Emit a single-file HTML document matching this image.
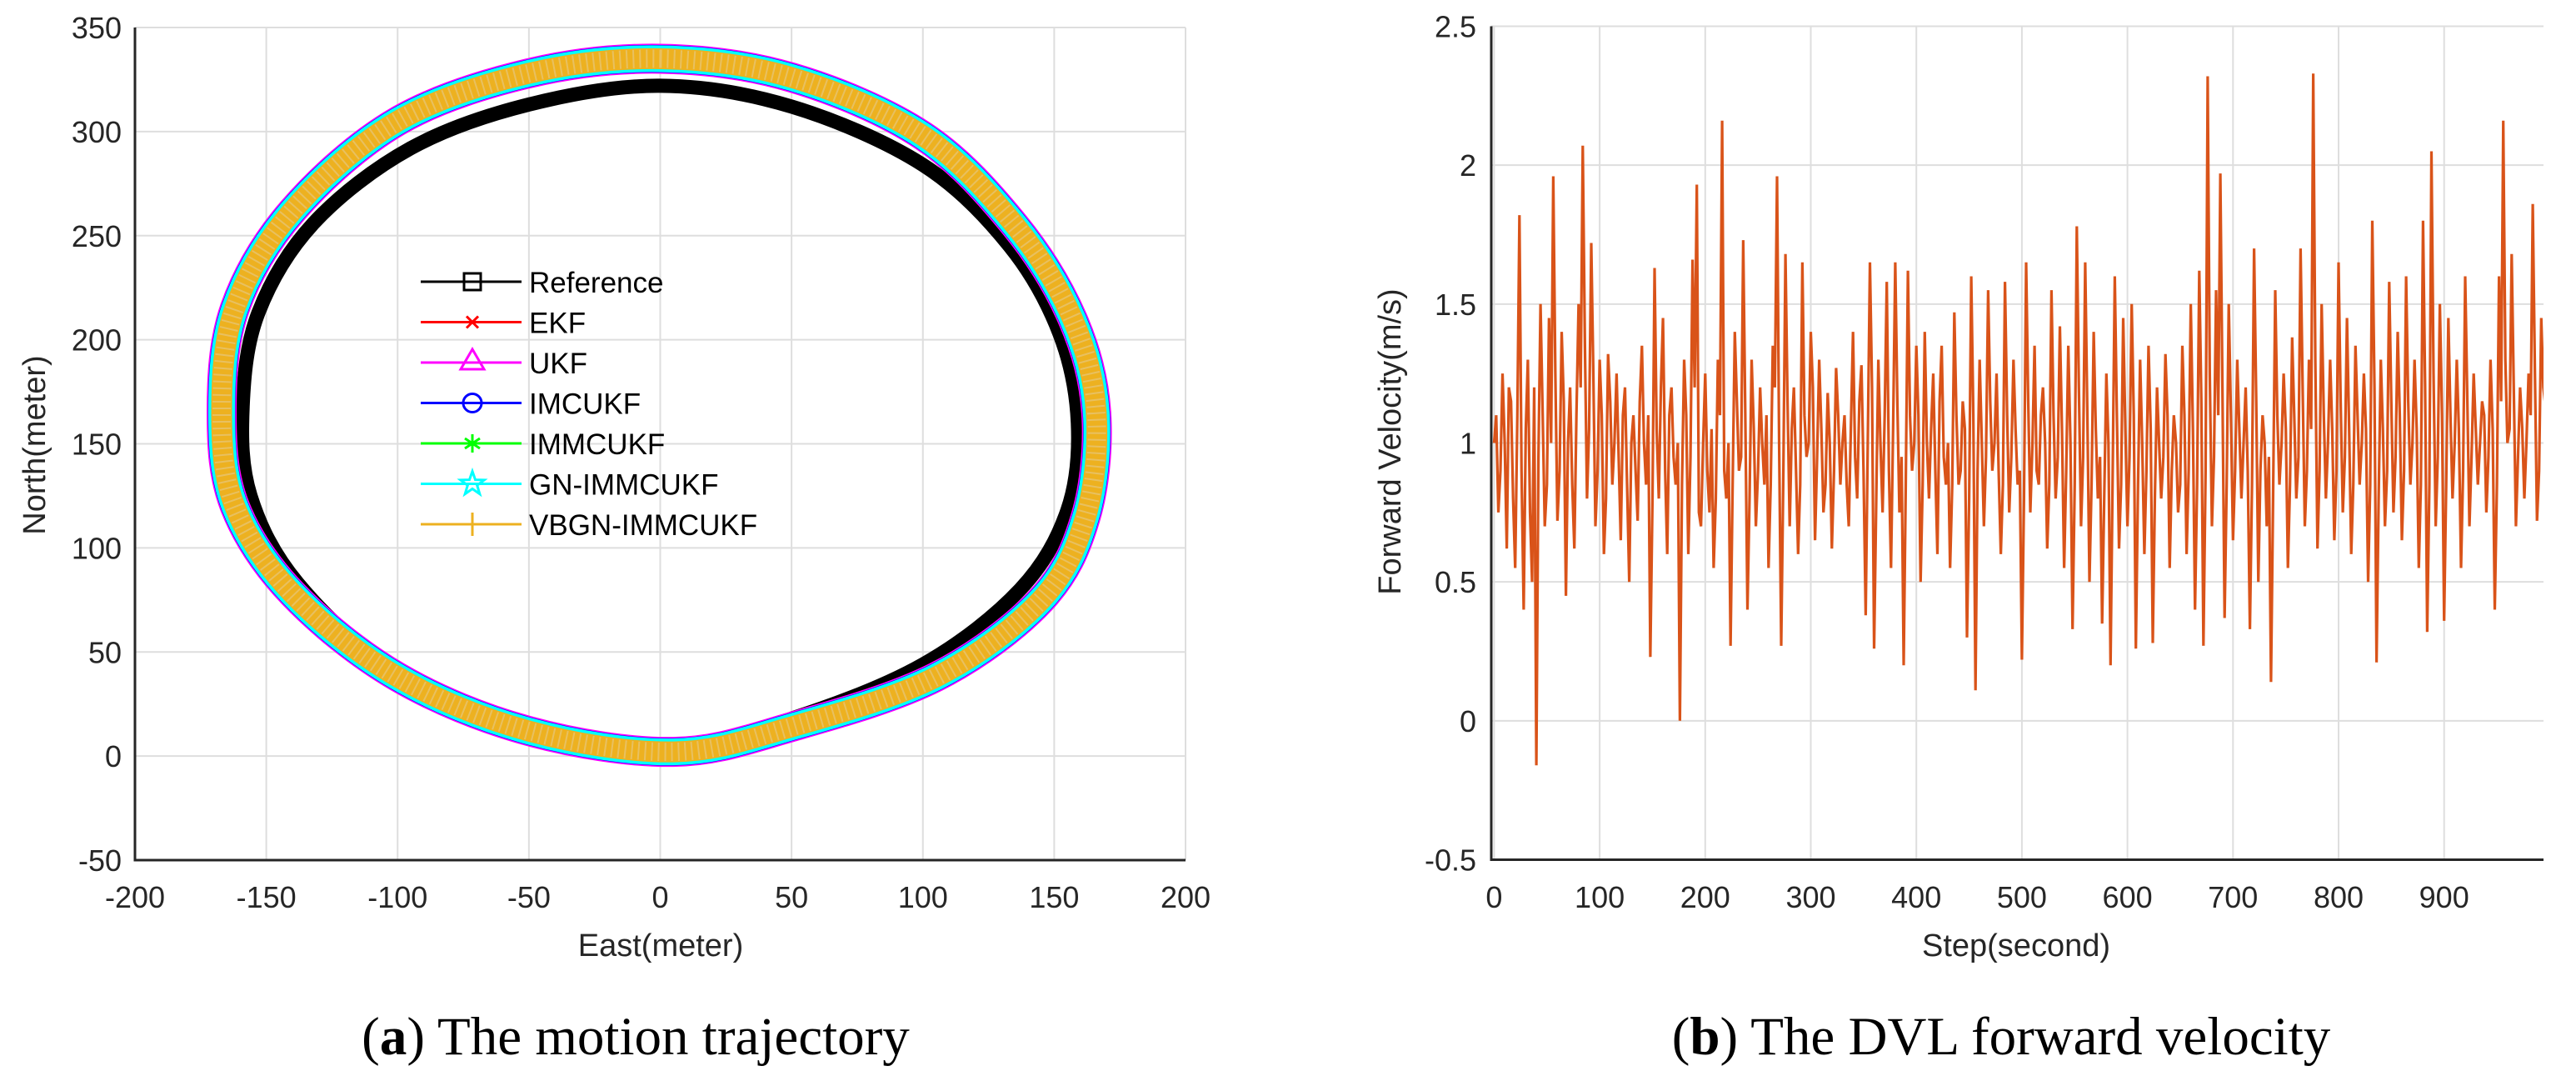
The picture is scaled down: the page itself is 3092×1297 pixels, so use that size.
<!DOCTYPE html>
<html><head><meta charset="utf-8"><style>
html,body{margin:0;padding:0;background:#fff;}
svg{display:block;font-family:"Liberation Sans",Arial,sans-serif;}
</style></head><body>
<svg id="fig" width="3092" height="1297" viewBox="0 0 3092 1297" xmlns="http://www.w3.org/2000/svg">
<defs><clipPath id="clipB"><rect x="1790" y="31" width="1263" height="1001"/></clipPath>
<clipPath id="clipA"><rect x="162" y="33" width="1261" height="999"/></clipPath></defs>
<g id="gA"></g>
<g id="gB"></g>
<text x="763" y="1265" font-family="Liberation Serif,serif" font-size="65" text-anchor="middle" fill="#000">(<tspan font-weight="bold">a</tspan>) The motion trajectory</text>
<text x="2402" y="1265" font-family="Liberation Serif,serif" font-size="65" text-anchor="middle" fill="#000">(<tspan font-weight="bold">b</tspan>) The DVL forward velocity</text>
</svg>
<script>
// ---- Chart A data ----
const xTicksA = [-200,-150,-100,-50,0,50,100,150,200];
const yTicksA = [-50,0,50,100,150,200,250,300,350];
const estEast = [0,50,100,135,157,166,162,145,105,50,5,-50,-100,-140,-162,-167,-162,-140,-100,-50];
const estNorth = [335,326,298,255,210,165,115,75,38,14,2,12,38,78,120,165,215,262,305,328];
const refEast = [0,50,100,133,152,159,155,137,100,50,5,-50,-100,-138,-156,-159,-153,-132,-95,-50];
const refNorth = [322,312,284,245,203,160,118,80,44,18,5,13,40,83,125,168,213,256,292,313];
const legendNames = ["Reference","EKF","UKF","IMCUKF","IMMCUKF","GN-IMMCUKF","VBGN-IMMCUKF"];
const legendColors = ["#000000","#ff0000","#ff00ff","#0000ff","#00ff00","#00ffff","#edb120"];
// ---- Chart B data ----
const xTicksB = [0,100,200,300,400,500,600,700,800,900];
const yTicksB = [-0.5,0,0.5,1,1.5,2,2.5];
const velStep = 4;
const velocity = [1.0,0.75,1.25,0.62,1.15,0.55,1.82,0.4,1.3,0.5,-0.16,1.5,0.7,1.45,1.96,0.72,1.4,0.45,1.2,0.62,
1.5,2.07,0.8,1.72,0.7,1.3,0.6,1.32,0.85,1.25,0.65,1.2,0.5,1.1,0.72,1.35,0.85,0.23,1.63,0.8,
1.45,0.6,1.2,0.85,0.0,1.3,0.6,1.66,1.93,0.7,1.25,0.75,0.55,1.3,2.16,0.8,0.27,1.4,0.9,1.73,
0.4,1.3,0.7,1.2,0.85,0.55,1.35,1.96,0.27,1.68,0.7,1.2,0.6,1.65,0.95,1.4,0.65,1.3,0.75,1.18,
0.62,1.27,0.85,1.1,0.7,1.4,0.8,1.28,0.38,1.65,0.26,1.3,0.75,1.58,0.55,1.65,0.75,0.2,1.62,0.9,
1.35,0.5,1.4,0.8,1.25,0.6,1.35,0.85,0.55,1.47,0.85,1.15,0.3,1.6,0.11,1.3,0.7,1.55,0.9,1.25,
0.6,1.58,0.75,1.3,0.85,0.22,1.65,0.75,1.35,0.85,1.2,0.62,1.55,0.8,1.42,0.55,1.35,0.33,1.78,0.7,
1.65,0.5,1.4,0.8,0.35,1.25,0.2,1.6,0.62,1.45,0.7,1.5,0.26,1.3,0.6,1.35,0.28,1.2,0.8,1.32,
0.55,1.1,0.75,1.35,0.6,1.5,0.4,1.62,0.27,2.32,0.7,1.55,1.97,0.37,1.5,0.65,1.3,0.8,1.2,0.33,
1.7,0.5,1.1,0.7,0.14,1.55,0.85,1.25,0.55,1.38,0.8,1.7,0.7,1.3,2.33,0.62,1.5,0.8,1.3,0.65,
1.65,0.75,1.45,0.6,1.35,0.85,1.25,0.5,1.8,0.21,1.3,0.7,1.58,0.75,1.4,0.65,1.6,0.85,1.3,0.55,
1.8,0.32,2.05,0.7,1.5,0.36,1.45,0.8,1.3,0.55,1.6,0.7,1.25,0.85,1.15,0.75,1.3,0.4,1.6,2.16,
1.0,1.68,0.7,1.2,0.8,1.25,1.86,0.72,1.45,1.13];
const velocityMid = [1.1,0.9,1.0,1.2,0.8,1.1,0.9,1.05,0.75,1.2,0.95,1.1,0.85,1.0,1.25,0.9,1.15,1.0,0.85,1.1,
1.2,1.35,1.05,1.25,0.9,1.1,0.8,1.15,1.0,0.95,1.1,0.85,1.0,0.9,1.15,1.0,1.1,0.8,1.05,1.2,
0.9,1.1,0.95,1.0,0.85,1.1,0.95,1.2,0.75,1.0,0.9,1.05,0.8,1.1,0.9,1.0,0.85,1.15,0.95,1.1,
0.8,1.05,0.9,1.0,1.1,0.85,1.2,1.0,0.9,1.15,1.05,0.9,0.85,1.1,1.0,1.2,0.95,1.05,0.85,1.0,
0.9,1.1,1.0,0.85,1.05,0.95,1.15,0.9,1.0,1.2,0.8,1.0,1.1,0.9,1.05,1.15,0.95,0.85,1.1,1.0,
1.1,0.85,1.0,1.05,0.9,1.15,0.95,1.0,0.85,1.1,0.9,1.05,0.8,1.1,0.9,1.0,0.95,1.15,1.0,0.9,
0.85,1.1,0.95,1.05,0.9,0.8,1.15,1.0,0.9,1.1,1.0,0.85,1.1,0.95,1.05,0.9,1.0,0.85,1.2,0.95,
1.1,0.85,1.05,0.95,0.8,1.0,0.9,1.1,0.85,1.05,0.95,1.1,0.85,1.0,0.9,1.05,0.8,1.0,0.95,1.1,
0.9,1.0,0.85,1.1,0.9,1.05,0.85,1.15,0.9,1.25,0.95,1.1,1.2,0.85,1.1,0.9,1.05,1.0,0.9,0.85,
1.15,0.9,1.0,0.95,0.8,1.1,1.0,1.05,0.85,1.1,0.95,1.2,0.9,1.05,1.3,0.9,1.1,1.0,1.05,0.9,
1.15,0.95,1.05,0.85,1.1,1.0,1.05,0.85,1.2,0.8,1.05,0.9,1.15,0.95,1.1,0.9,1.15,1.0,1.05,0.85,
1.2,0.85,1.25,0.95,1.1,0.85,1.1,1.0,1.05,0.9,1.15,0.95,1.05,1.0,1.1,0.95,1.05,0.85,1.15,1.3,
1.05,1.2,0.95,1.05,1.0,1.1,1.25,0.9,1.2,1.15];

const NS="http://www.w3.org/2000/svg";
function mk(tag, attrs, parent){const e=document.createElementNS(NS,tag);for(const k in attrs)e.setAttribute(k,attrs[k]);parent.appendChild(e);return e;}

// ---- Chart A ----
const gA=document.getElementById('gA');
const AL=162,AR=1423,AT=33,AB=1032;
const xA=v=>AL+(v+200)*(AR-AL)/400;
const yA=v=>AB-(v+50)*(AB-AT)/400;
xTicksA.forEach(t=>{const l=mk('line',{x1:xA(t),x2:xA(t),y1:AT,y2:AB,stroke:'#dedede','stroke-width':2},gA);

const tx=mk('text',{x:xA(t),y:1089,'font-size':36,'text-anchor':'middle',fill:'#262626'},gA);tx.textContent=t;
});
yTicksA.forEach(t=>{const l=mk('line',{x1:AL,x2:AR,y1:yA(t),y2:yA(t),stroke:'#dedede','stroke-width':2},gA);

const tx=mk('text',{x:146,y:yA(t)+13,'font-size':36,'text-anchor':'end',fill:'#262626'},gA);tx.textContent=t;
});
function closedPath(xs,ys){const n=xs.length;const P=xs.map((x,i)=>[xA(x),yA(ys[i])]);
let d='M'+P[0][0]+','+P[0][1];
for(let i=0;i<n;i++){const p0=P[(i-1+n)%n],p1=P[i],p2=P[(i+1)%n],p3=P[(i+2)%n];
const c1=[p1[0]+(p2[0]-p0[0])/6,p1[1]+(p2[1]-p0[1])/6],c2=[p2[0]-(p3[0]-p1[0])/6,p2[1]-(p3[1]-p1[1])/6];
d+=' C'+c1+' '+c2+' '+p2;}return d+'Z';}
const clipA=mk('g',{'clip-path':'url(#clipA)'},gA);
const dEst=closedPath(estEast,estNorth);
const pr=mk('path',{d:closedPath(refEast,refNorth),fill:'none',stroke:'#000','stroke-width':17},clipA);

const layers=[['#ff00ff',36,'ukf-trajectory'],['#0000ff',33,'imcukf-trajectory'],['#00ffff',32,'gn-immcukf-trajectory'],['#edb120',25,'vbgn-immcukf-trajectory']];
layers.forEach(L=>{const p=mk('path',{d:dEst,fill:'none',stroke:L[0],'stroke-width':L[1]},clipA);
});
const pe=mk('path',{d:dEst,fill:'none',stroke:'#e8c060','stroke-width':22,'stroke-dasharray':'2 6'},clipA);

const axA=mk('path',{d:`M${AL},${AT}V${AB}H${AR}`,fill:'none',stroke:'#262626','stroke-width':3},gA);

const xl=mk('text',{x:793,y:1147,'font-size':38,'text-anchor':'middle',fill:'#262626'},gA);xl.textContent='East(meter)';

const yl=mk('text',{x:0,y:0,'font-size':38,'text-anchor':'middle',fill:'#262626',transform:'translate(54,534) rotate(-90)'},gA);yl.textContent='North(meter)';

// legend
legendNames.forEach((nm,i)=>{const y=338+i*48.5;const c=legendColors[i];
const g=mk('g',{},gA);
mk('line',{x1:505,x2:626,y1:y,y2:y,stroke:c,'stroke-width':3},g);
const m=567;
if(i==0)mk('rect',{x:m-10,y:y-10,width:20,height:20,fill:'none',stroke:c,'stroke-width':3},g);
if(i==1)mk('path',{d:`M${m-7},${y-7}L${m+7},${y+7}M${m-7},${y+7}L${m+7},${y-7}`,stroke:c,'stroke-width':3},g);
if(i==2)mk('path',{d:`M${m},${y-16}L${m+14},${y+8}L${m-14},${y+8}Z`,fill:'none',stroke:c,'stroke-width':3},g);
if(i==3)mk('circle',{cx:m,cy:y,r:11,fill:'none',stroke:c,'stroke-width':3},g);
if(i==4)mk('path',{d:`M${m},${y-11}V${y+11}M${m-9},${y-6}L${m+9},${y+6}M${m-9},${y+6}L${m+9},${y-6}`,stroke:c,'stroke-width':3},g);
if(i==5){let d='';for(let k=0;k<10;k++){const r=k%2?6:15,a=-Math.PI/2+k*Math.PI/5;d+=(k?'L':'M')+(m+r*Math.cos(a))+','+(y+r*Math.sin(a));}mk('path',{d:d+'Z',fill:'none',stroke:c,'stroke-width':3},g);}
if(i==6)mk('path',{d:`M${m},${y-14}V${y+14}`,stroke:c,'stroke-width':3},g);
const t=mk('text',{x:635,y:y+13,'font-size':35,fill:'#000'},g);t.textContent=nm;});

// ---- Chart B ----
const gB=document.getElementById('gB');
const BL=1790,BR=3053,BT=31.5,BB=1031.5;
const xB=v=>1793.4+v*1.267;
const yB=v=>BB-(v+0.5)*(BB-BT)/3;
xTicksB.forEach(t=>{const l=mk('line',{x1:xB(t),x2:xB(t),y1:BT,y2:BB,stroke:'#dedede','stroke-width':2},gB);

const tx=mk('text',{x:xB(t),y:1089,'font-size':36,'text-anchor':'middle',fill:'#262626'},gB);tx.textContent=t;
});
yTicksB.forEach(t=>{const l=mk('line',{x1:BL,x2:BR,y1:yB(t),y2:yB(t),stroke:'#dedede','stroke-width':2},gB);

const tx=mk('text',{x:1772,y:yB(t)+13,'font-size':36,'text-anchor':'end',fill:'#262626'},gB);tx.textContent=t;
});
const series=[];
velocity.forEach((v,i)=>{series.push([i*velStep,v]);if(i<velocityMid.length)series.push([i*velStep+velStep/2,velocityMid[i]]);});
const pts=series.map(p=>xB(p[0]).toFixed(1)+','+yB(p[1]).toFixed(1)).join(' ');
const pl=mk('polyline',{points:pts,fill:'none',stroke:'#d95319','stroke-width':3.2,'stroke-linejoin':'miter','clip-path':'url(#clipB)'},gB);

const axB=mk('path',{d:`M${BL},${BT}V${BB}H${BR}`,fill:'none',stroke:'#262626','stroke-width':3},gB);

const xl2=mk('text',{x:2420,y:1147,'font-size':38,'text-anchor':'middle',fill:'#262626'},gB);xl2.textContent='Step(second)';

const yl2=mk('text',{x:0,y:0,'font-size':38,'text-anchor':'middle',fill:'#262626',transform:'translate(1681,530) rotate(-90)'},gB);yl2.textContent='Forward Velocity(m/s)';

</script>
</body></html>
